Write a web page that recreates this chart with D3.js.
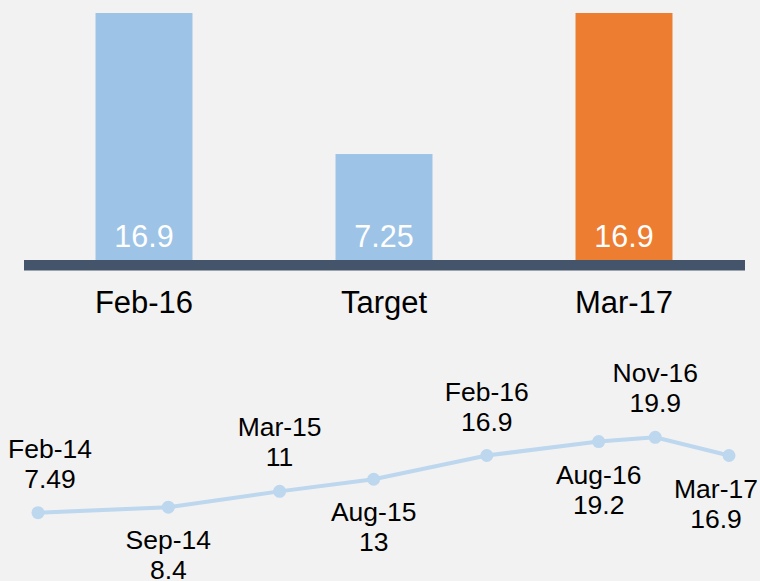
<!DOCTYPE html>
<html>
<head>
<meta charset="utf-8">
<script src="https://cdn.jsdelivr.net/npm/d3@7"></script>
<style>
  html, body { margin: 0; padding: 0; background: #f2f2f2; }
  svg { display: block; font-family: "Liberation Sans", Arial, sans-serif; }
</style>
</head>
<body>
<div id="chart"></div>
<script>
// bar chart data
const barCats = ["Feb-16", "Target", "Mar-17"];
const barValues = [16.9, 7.25, 16.9];
const barLabels = ["16.9", "7.25", "16.9"];

// trend line data
const lineDates = ["2014-02", "2014-09", "2015-03", "2015-08", "2016-02", "2016-08", "2016-11", "2017-03"];
const lineNames = ["Feb-14", "Sep-14", "Mar-15", "Aug-15", "Feb-16", "Aug-16", "Nov-16", "Mar-17"];
const lineValues = [7.49, 8.4, 11, 13, 16.9, 19.2, 19.9, 16.9];
const lineLabels = ["7.49", "8.4", "11", "13", "16.9", "19.2", "19.9", "16.9"];
const labelAbove = [true, false, true, false, true, false, true, false];

const W = 760, H = 581;

const svg = d3.select("#chart").append("svg")
    .attr("width", W)
    .attr("height", H);

svg.append("rect").attr("width", W).attr("height", H).attr("fill", "#f2f2f2");

// ---- bars ----
let x = d3.scaleBand()
    .domain(barCats)
    .range([24, 744])
    .paddingInner(0.596)
    .paddingOuter(0.298);

let y = d3.scaleLinear()
    .domain([0, 16.9])
    .range([260, 13]);

let bars = svg.append("g");

bars.selectAll("rect.bar")
    .data(barCats)
    .enter()
    .append("rect")
    .attr("class", "bar")
    .attr("x", d => x(d))
    .attr("width", x.bandwidth())
    .attr("y", (d, i) => y(barValues[i]))
    .attr("height", (d, i) => y(0) - y(barValues[i]))
    .attr("fill", (d, i) => i === 2 ? "#ed7d31" : "#9dc3e6");

bars.selectAll("text.val")
    .data(barCats)
    .enter()
    .append("text")
    .attr("class", "val")
    .attr("x", d => x(d) + x.bandwidth() / 2)
    .attr("y", y(0) - 13)
    .attr("text-anchor", "middle")
    .attr("fill", "#ffffff")
    .style("font-size", "30.5px")
    .text((d, i) => barLabels[i]);

// thick baseline
bars.append("rect")
    .attr("x", 24)
    .attr("y", y(0))
    .attr("width", 721)
    .attr("height", 10.5)
    .attr("fill", "#44546a");

bars.selectAll("text.cat")
    .data(barCats)
    .enter()
    .append("text")
    .attr("class", "cat")
    .attr("x", d => x(d) + x.bandwidth() / 2)
    .attr("y", 313)
    .attr("text-anchor", "middle")
    .attr("fill", "#000")
    .style("font-size", "31px")
    .text(d => d);

// ---- line ----
let parse = d3.timeParse("%Y-%m");
let dates = lineDates.map(parse);

let xl = d3.scaleTime()
    .domain(d3.extent(dates))
    .range([38, 729]);

let yl = d3.scaleLinear()
    .domain([7.49, 19.9])
    .range([512.7, 437.3]);

let pts = dates.map((d, i) => ({date: d, value: lineValues[i], name: lineNames[i], label: lineLabels[i], above: labelAbove[i]}));

let line = svg.append("g");

line.append("path")
    .datum(pts)
    .attr("fill", "none")
    .attr("stroke", "#bdd7ee")
    .attr("stroke-width", 4)
    .attr("d", d3.line().x(d => xl(d.date)).y(d => yl(d.value)));

line.selectAll("circle")
    .data(pts)
    .enter()
    .append("circle")
    .attr("cx", d => xl(d.date))
    .attr("cy", d => yl(d.value))
    .attr("r", 6.5)
    .attr("fill", "#bdd7ee");

let lbl = line.selectAll("text.lbl")
    .data(pts)
    .enter()
    .append("text")
    .attr("class", "lbl")
    .attr("text-anchor", "middle")
    .attr("fill", "#000")
    .style("font-size", "26.5px");

lbl.append("tspan")
    .attr("x", d => xl(d.date))
    .attr("y", d => yl(d.value) + (d.above ? -55 : 42))
    .text(d => d.name);
lbl.append("tspan")
    .attr("x", d => xl(d.date))
    .attr("y", d => yl(d.value) + (d.above ? -25 : 72))
    .text(d => d.label);

// keep labels inside the picture
lbl.each(function(d) {
    let half = this.getBBox().width / 2;
    let cx = Math.max(8 + half, Math.min(W - 2 - half, xl(d.date)));
    d3.select(this).selectAll("tspan").attr("x", cx);
});
</script>
</body>
</html>
